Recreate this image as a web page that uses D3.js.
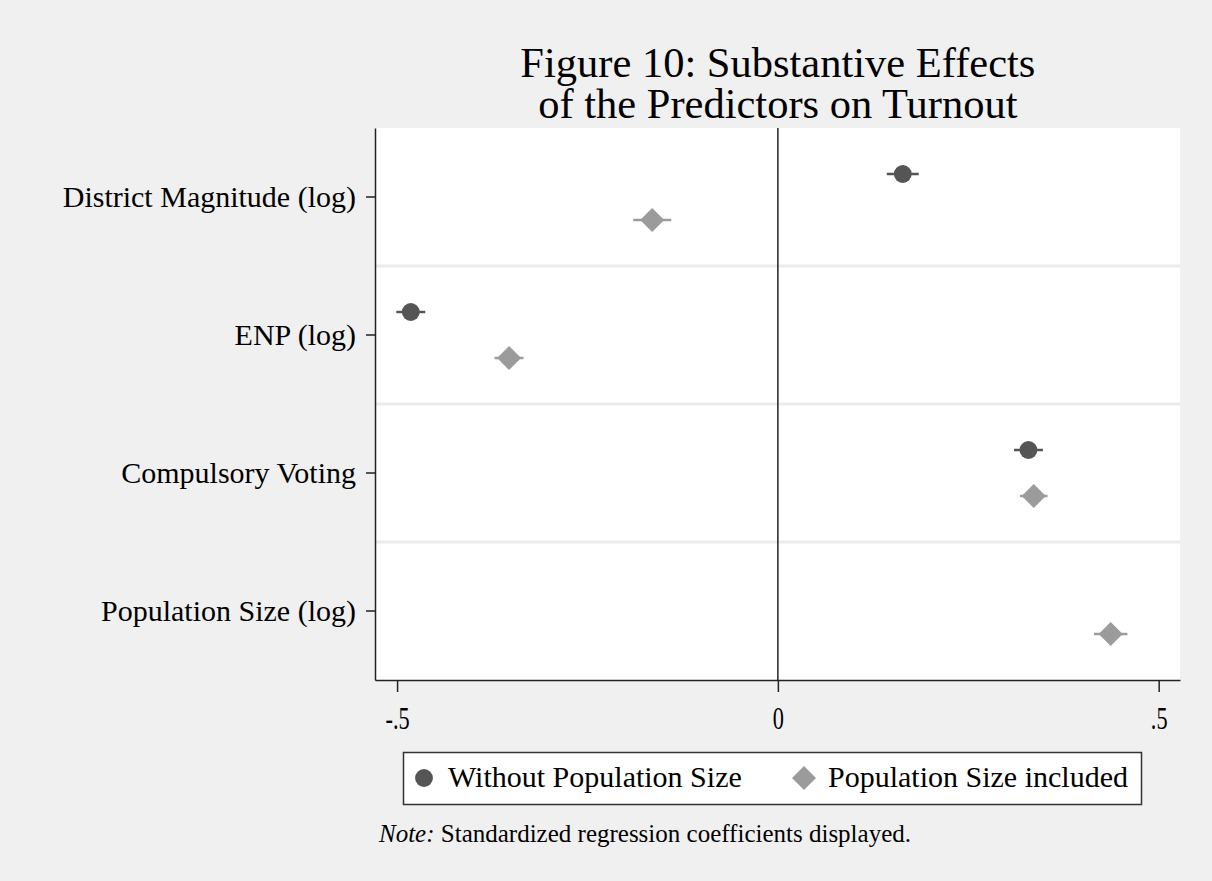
<!DOCTYPE html>
<html>
<head>
<meta charset="utf-8">
<script src="https://cdn.jsdelivr.net/npm/d3@7"></script>
<style>
body { margin: 0; background: #f0f0f0; }
svg { display: block; font-family: "Liberation Serif", "Times New Roman", serif; }
</style>
</head>
<body>
<div id="chart"></div>
<script>
// data
var categories = ["District Magnitude (log)", "ENP (log)", "Compulsory Voting", "Population Size (log)"];
var seriesNames = ["Without Population Size", "Population Size included"];
// point estimates, null = not in model
var withoutPop = [0.164, -0.482, 0.329, null];
var withPop = [-0.165, -0.353, 0.336, 0.437];
// confidence interval half widths
var withoutPopCI = [0.021, 0.019, 0.019, null];
var withPopCI = [0.025, 0.019, 0.018, 0.022];
var xTicks = [-0.5, 0, 0.5];
var xTickLabels = ["-.5", "0", ".5"];

var W = 1212, H = 881;
var margin = {top: 128, right: 32, bottom: 201, left: 375};

var svg = d3.select("#chart").append("svg")
	.attr("width", W)
	.attr("height", H);

svg.append("rect").attr("width", W).attr("height", H).attr("fill", "#f0f0f0");

var x = d3.scaleLinear()
	.domain([-0.529, 0.528])
	.range([margin.left, W - margin.right]);

var y = d3.scaleBand()
	.domain(categories)
	.range([margin.top, H - margin.bottom]);

// plot area
svg.append("rect")
	.attr("x", margin.left)
	.attr("y", margin.top)
	.attr("width", W - margin.right - margin.left)
	.attr("height", H - margin.bottom - margin.top)
	.attr("fill", "#fff");

// band separators
svg.selectAll(".sep")
	.data(categories.slice(1))
	.enter().append("line")
	.attr("class", "sep")
	.attr("x1", margin.left)
	.attr("x2", W - margin.right)
	.attr("y1", function(d) { return y(d); })
	.attr("y2", function(d) { return y(d); })
	.attr("stroke", "#ebebeb")
	.attr("stroke-width", 3);

// zero line
svg.append("line")
	.attr("x1", x(0)).attr("x2", x(0))
	.attr("y1", margin.top).attr("y2", H - margin.bottom)
	.attr("stroke", "#222")
	.attr("stroke-width", 1.5);

// x axis
var xAxis = svg.append("g")
	.attr("transform", "translate(0," + (H - margin.bottom) + ")")
	.call(d3.axisBottom(x)
		.tickValues(xTicks)
		.tickFormat(function(d, i) { return xTickLabels[i]; })
		.tickSize(12)
		.tickPadding(15)
		.tickSizeOuter(0));
xAxis.select(".domain").attr("stroke", "#222").attr("stroke-width", 1.5);
xAxis.selectAll(".tick line").attr("stroke", "#222").attr("stroke-width", 1.5);
// tick labels in the figure are tall and narrow
xAxis.selectAll("text")
	.attr("font-family", "Liberation Serif, serif")
	.attr("font-size", 31)
	.attr("transform", "scale(0.72,1)")
	.attr("fill", "#000");

// y axis
var yAxis = svg.append("g")
	.attr("transform", "translate(" + margin.left + ",0)")
	.call(d3.axisLeft(y)
		.tickSize(9)
		.tickPadding(10)
		.tickSizeOuter(0));
yAxis.select(".domain").attr("stroke", "#222").attr("stroke-width", 1.5);
yAxis.selectAll(".tick line").attr("stroke", "#222").attr("stroke-width", 1.5);
yAxis.selectAll("text")
	.attr("font-family", "Liberation Serif, serif")
	.attr("font-size", 30)
	.attr("fill", "#000");

var colors = ["#555555", "#9b9b9b"];
var offset = 23;

function drawSeries(vals, ci, idx) {
	var pts = [];
	for (var i = 0; i < categories.length; i++) {
		if (vals[i] == null) continue;
		pts.push({cat: categories[i], v: vals[i], ci: ci[i]});
	}
	var cy = function(d) { return y(d.cat) + y.bandwidth() / 2 + (idx == 0 ? -offset : offset); };
	var g = svg.append("g");
	g.selectAll("line")
		.data(pts)
		.enter().append("line")
		.attr("x1", function(d) { return x(d.v - d.ci); })
		.attr("x2", function(d) { return x(d.v + d.ci); })
		.attr("y1", cy)
		.attr("y2", cy)
		.attr("stroke", colors[idx])
		.attr("stroke-width", 2.5);
	g.selectAll("path")
		.data(pts)
		.enter().append("path")
		.attr("transform", function(d) { return "translate(" + x(d.v) + "," + cy(d) + ")"; })
		.attr("d", idx == 0 ? d3.symbol(d3.symbolCircle, 250)() : "M0,-12L12,0L0,12L-12,0Z")
		.attr("fill", colors[idx]);
}
drawSeries(withoutPop, withoutPopCI, 0);
drawSeries(withPop, withPopCI, 1);

// title
var title = svg.append("text")
	.attr("x", x(0))
	.attr("text-anchor", "middle")
	.attr("font-size", 42.5)
	.attr("fill", "#000");
title.append("tspan").attr("x", x(0)).attr("y", 77).text("Figure 10: Substantive Effects");
title.append("tspan").attr("x", x(0)).attr("y", 118).text("of the Predictors on Turnout");

// legend
var lg = svg.append("g");
lg.append("rect")
	.attr("x", 403.5).attr("y", 752.5)
	.attr("width", 738).attr("height", 52)
	.attr("fill", "#fff")
	.attr("stroke", "#333")
	.attr("stroke-width", 1.5);
var legX = [424, 804];
seriesNames.forEach(function(name, i) {
	lg.append("path")
		.attr("transform", "translate(" + legX[i] + ",778)")
		.attr("d", i == 0 ? d3.symbol(d3.symbolCircle, 250)() : "M0,-12L12,0L0,12L-12,0Z")
		.attr("fill", colors[i]);
	lg.append("text")
		.attr("x", legX[i] + 24)
		.attr("y", 787)
		.attr("font-size", 30)
		.attr("fill", "#000")
		.text(name);
});

// note
var note = svg.append("text")
	.attr("x", 379)
	.attr("y", 842)
	.attr("font-size", 25)
	.attr("fill", "#000");
note.append("tspan").attr("font-style", "italic").text("Note:");
note.append("tspan").text(" Standardized regression coefficients displayed.");
</script>
</body>
</html>
